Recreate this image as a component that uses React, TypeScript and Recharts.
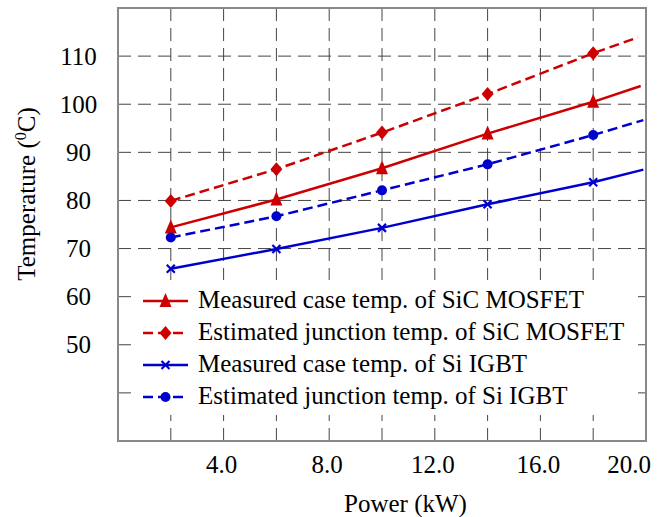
import React from 'react';
import { LineChart, Line, XAxis, YAxis, CartesianGrid, ReferenceArea, Legend } from 'recharts';

// ---- data ----
const powerKW = [2, 6, 10, 14, 18];
const sicCaseTemp = [74.4, 80.2, 86.7, 93.9, 100.5];
const sicJunctionTemp = [79.9, 86.5, 94.1, 102.1, 110.6];
const siCaseTemp = [65.8, 69.9, 74.3, 79.2, 83.8];
const siJunctionTemp = [72.3, 76.7, 82.1, 87.5, 93.6];
// trend lines continue (without marker) to the right edge
const trendEndKW = [19.8, 19.7, 19.9, 19.9];
const trendEndTemp = [103.8, 113.9, 86.4, 96.7];

const xTicks = [2, 4, 6, 8, 10, 12, 14, 16, 18, 20];
const yTicks = [40, 50, 60, 70, 80, 90, 100, 110];
const seriesNames = [
  'Measured case temp. of SiC MOSFET',
  'Estimated junction temp. of SiC MOSFET',
  'Measured case temp. of Si IGBT',
  'Estimated junction temp. of Si IGBT',
];

const RED = '#cc0000';
const BLUE = '#0000cc';
const FONT = "'Liberation Serif', 'Times New Roman', serif";

const seriesStyle = [
  { color: RED, dashed: false, marker: 'triangle' },
  { color: RED, dashed: true, marker: 'diamond' },
  { color: BLUE, dashed: false, marker: 'cross' },
  { color: BLUE, dashed: true, marker: 'circle' },
];
const seriesValues = [sicCaseTemp, sicJunctionTemp, siCaseTemp, siJunctionTemp];

const seriesData = seriesValues.map((vals, s) => [
  ...powerKW.map((x, i) => ({ x, y: vals[i], mark: true })),
  { x: trendEndKW[s], y: trendEndTemp[s], mark: false },
]);

function Marker({ kind, cx, cy, color }: { kind: string; cx: number; cy: number; color: string }) {
  if (kind === 'triangle') {
    return <polygon points={`${cx},${cy - 8} ${cx - 6},${cy + 6} ${cx + 6},${cy + 6}`} fill={color} />;
  }
  if (kind === 'diamond') {
    return <polygon points={`${cx},${cy - 7} ${cx + 6},${cy} ${cx},${cy + 7} ${cx - 6},${cy}`} fill={color} />;
  }
  if (kind === 'circle') {
    return <circle cx={cx} cy={cy} r={5} fill={color} />;
  }
  return (
    <g stroke={color} strokeWidth={2.2}>
      <line x1={cx - 4} y1={cy - 4} x2={cx + 4} y2={cy + 4} />
      <line x1={cx - 4} y1={cy + 4} x2={cx + 4} y2={cy - 4} />
    </g>
  );
}

const makeDot = (kind: string, color: string) => (props: any) => {
  const { cx, cy, payload, index } = props;
  if (!payload || !payload.mark) return <g key={`d${index}`} />;
  return (
    <g key={`d${index}`}>
      <Marker kind={kind} cx={cx} cy={cy} color={color} />
    </g>
  );
};

const XTick = (props: any) => {
  const { x, payload } = props;
  const v = payload.value;
  if (v % 4 !== 0) return <g />;
  const shift = v === 20 ? -17 : -2;
  return (
    <text x={x + shift} y={473} textAnchor="middle" fontFamily={FONT} fontSize={25} fill="#000">
      {v.toFixed(1)}
    </text>
  );
};

const YTick = (props: any) => {
  const { y, payload } = props;
  if (payload.value === 40) return <g />;
  return (
    <text x={78.5} y={y + 8.5} textAnchor="middle" fontFamily={FONT} fontSize={25} fill="#000">
      {payload.value}
    </text>
  );
};

const LegendContent = () => (
  <svg width={499} height={135} style={{ display: 'block', background: '#fff' }}>
    {seriesNames.map((name, i) => {
      const st = seriesStyle[i];
      const cy = 21 + i * 32;
      return (
        <g key={name}>
          <line
            x1={10}
            y1={cy}
            x2={55}
            y2={cy}
            stroke={st.color}
            strokeWidth={2.5}
            strokeDasharray={st.dashed ? '10 5' : undefined}
          />
          <Marker kind={st.marker} cx={32.5} cy={cy} color={st.color} />
          <text x={65} y={cy + 7} fontFamily={FONT} fontSize={25} fill="#000">
            {name}
          </text>
        </g>
      );
    })}
  </svg>
);

export default function App() {
  return (
    <div style={{ position: 'absolute', left: 0, top: 0 }}>
      <LineChart width={672} height={517} margin={{ top: 8, right: 26, left: 0, bottom: 0 }}>
        <CartesianGrid stroke="#444" strokeWidth={1} strokeDasharray="13 7" />
        <XAxis
          dataKey="x"
          type="number"
          domain={[0, 20]}
          ticks={xTicks}
          allowDataOverflow
          height={76}
          tick={<XTick />}
          tickLine={false}
          axisLine={false}
          label={{
            content: () => (
              <text x={405.5} y={512} textAnchor="middle" fontFamily={FONT} fontSize={25} fill="#000">
                Power (kW)
              </text>
            ),
          }}
        />
        <YAxis
          type="number"
          domain={[30, 120]}
          ticks={yTicks}
          allowDataOverflow
          width={118}
          tick={<YTick />}
          tickLine={false}
          axisLine={false}
          label={{
            content: () => (
              <text
                x={35}
                y={194}
                transform="rotate(-90, 35, 194)"
                textAnchor="middle"
                fontFamily={FONT}
                fontSize={25}
                fill="#000"
              >
                Temperature (
                <tspan dy={-9} fontSize={16}>0</tspan>
                <tspan dy={9}>C)</tspan>
              </text>
            ),
          }}
        />
        <ReferenceArea x1={0} x2={20} y1={30} y2={120} fill="none" stroke="#888" strokeWidth={2} />
        {seriesData.map((data, s) => (
          <Line
            key={seriesNames[s]}
            name={seriesNames[s]}
            data={data}
            dataKey="y"
            type="linear"
            stroke={seriesStyle[s].color}
            strokeWidth={2.5}
            strokeDasharray={seriesStyle[s].dashed ? '10 5' : undefined}
            dot={makeDot(seriesStyle[s].marker, seriesStyle[s].color)}
            activeDot={false}
            isAnimationActive={false}
          />
        ))}
        <Legend
          layout="vertical"
          align="center"
          verticalAlign="middle"
          content={<LegendContent />}
          wrapperStyle={{ position: 'absolute', left: 133, top: 280, width: 499, height: 135 }}
        />
      </LineChart>
    </div>
  );
}
